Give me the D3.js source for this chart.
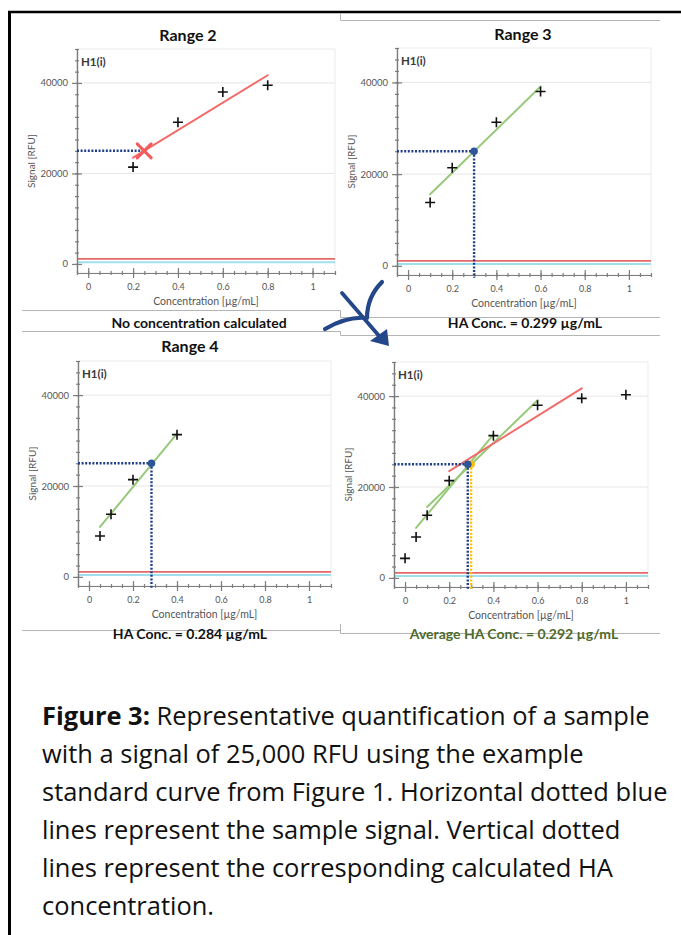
<!DOCTYPE html>
<html>
<head>
<meta charset="utf-8">
<script src="https://cdnjs.cloudflare.com/ajax/libs/d3/7.8.5/d3.min.js"></script>
<style>
  body { margin: 0; background: #fff; }
  svg { display: block; font-family: Lato, "Open Sans", sans-serif; }
  .axis path, .axis line { stroke: #7d7d7d; stroke-width: 1.2; }
  .axis text { fill: #555; font-family: Lato, sans-serif; }
</style>
</head>
<body>
<div id="svg-container"></div>
<script>
////////////////////////////  Data  ////////////////////////////
// standard curve points
const conc = [0, 0.05, 0.1, 0.2, 0.4, 0.6, 0.8, 1];
const signal = [4300, 9000, 13800, 21400, 31300, 38000, 39500, 40300];

// sample + reference lines
const sampleSignal = 25000;
const redLevel = 1100;
const cyanLevel = 400;

// fitted segments per range [[x,y],[x,y]]
const fitRange2 = [[0.2, 23500], [0.8, 41700]];
const fitRange3 = [[0.1, 15600], [0.6, 39100]];
const fitRange4 = [[0.05, 11000], [0.4, 31500]];

// calculated concentrations
const concRange3 = 0.299;
const concRange4 = 0.284;

// which points each panel shows
const rangeBounds = [[0.2, 0.8], [0.1, 0.6], [0.05, 0.4], [0, 1]];

// texts
const titles = ["Range 2", "Range 3", "Range 4", ""];
const results = [
  "No concentration calculated",
  "HA Conc. = 0.299 µg/mL",
  "HA Conc. = 0.284 µg/mL",
  "Average HA Conc. = 0.292 µg/mL"
];
const xTicks = [0, 0.2, 0.4, 0.6, 0.8, 1];
const yTicks = [0, 20000, 40000];
const gridVals = [20000, 40000];
const xDomain = [-0.05, 1.1];
const yDomain = [-2000, 47500];

const captionBold = "Figure 3:";
const captionLines = [
  " Representative quantification of a sample",
  "with a signal of 25,000 RFU using the example",
  "standard curve from Figure 1. Horizontal dotted blue",
  "lines represent the sample signal. Vertical dotted",
  "lines represent the corresponding calculated HA",
  "concentration."
];

////////////////////////////  Init  ////////////////////////////
const width = 681, height = 935;
const svg = d3.select("#svg-container").append("svg")
  .attr("width", width).attr("height", height);

const darkBlue = "#203f88";
const red = "#f26b68";
const green = "#98c97a";
const yellow = "#ffc000";

// panel placement (pixel box of each plot area)
const panels = [
  { x0: 77, x1: 335, y0: 273, y1: 49, tx: 188, ty: 41, rx: 199, ry: 328, fits: [fitRange2], fitColor: red, calc: [] },
  { x0: 397, x1: 651, y0: 275, y1: 48, tx: 523, ty: 40, rx: 525, ry: 328, fits: [fitRange3], fitColor: green, calc: [concRange3] },
  { x0: 78, x1: 331, y0: 586, y1: 361, tx: 190, ty: 352, rx: 190, ry: 639, fits: [fitRange4], fitColor: green, calc: [concRange4] },
  { x0: 394, x1: 648, y0: 587, y1: 362, tx: 0, ty: 0, rx: 514, ry: 639, fits: [fitRange3, fitRange4, fitRange2], fitColor: null, calc: [concRange3, concRange4] }
];

// frame + image borders
svg.append("line").attr("x1", 8).attr("x2", width).attr("y1", 12).attr("y2", 12)
  .attr("stroke", "#000").attr("stroke-width", 2.6);
svg.append("line").attr("x1", 9.5).attr("x2", 9.5).attr("y1", 11).attr("y2", height)
  .attr("stroke", "#000").attr("stroke-width", 3);

const borders = ["M340.5,13V20.5H660", "M22,310.5H340.5V317.5H660", "M22,331.5H340.5V335.5H660",
  "M22,630.5H340", "M340.5,624V633.5H660"];
svg.selectAll(".border").data(borders).join("path")
  .attr("d", d => d).attr("fill", "none").attr("stroke", "#b4b4b4").attr("stroke-width", 1);

const plus = "M-5,0H5M0,-5V5";
const crossAt = f => f[0][0] + (sampleSignal - f[0][1]) * (f[1][0] - f[0][0]) / (f[1][1] - f[0][1]);

panels.forEach((p, i) => {
  const x = d3.scaleLinear().domain(xDomain).range([p.x0, p.x1]);
  const y = d3.scaleLinear().domain(yDomain).range([p.y0, p.y1]);
  const g = svg.append("g");

  // plot background
  g.append("rect").attr("x", p.x0).attr("y", p.y1)
    .attr("width", p.x1 - p.x0).attr("height", p.y0 - p.y1)
    .attr("fill", "#fff").attr("stroke", "#ececec");

  g.selectAll(".grid").data(gridVals).join("line")
    .attr("x1", p.x0).attr("x2", p.x1)
    .attr("y1", d => y(d)).attr("y2", d => y(d))
    .attr("stroke", "#e6e6e6");

  // cyan / red baselines
  g.append("line").attr("x1", p.x0).attr("x2", p.x1)
    .attr("y1", y(cyanLevel)).attr("y2", y(cyanLevel))
    .attr("stroke", "#9fe0ec").attr("stroke-width", 2);
  g.append("line").attr("x1", p.x0).attr("x2", p.x1)
    .attr("y1", y(redLevel)).attr("y2", y(redLevel))
    .attr("stroke", "#e25050").attr("stroke-width", 1.8).attr("opacity", 0.85);

  // axes
  const xMinor = g.append("g").attr("class", "axis").attr("transform", `translate(0,${p.y0})`)
    .call(d3.axisBottom(x).ticks(23).tickSize(2).tickSizeOuter(0).tickFormat(""));
  xMinor.selectAll(".tick line").attr("y1", -2);
  const xAxis = g.append("g").attr("class", "axis").attr("transform", `translate(0,${p.y0})`)
    .call(d3.axisBottom(x).tickValues(xTicks).tickSize(5).tickSizeOuter(0).tickPadding(6).tickFormat(d3.format("~g")));
  xAxis.selectAll(".tick line").attr("y1", -5);
  xAxis.selectAll("text").attr("font-size", 9);

  const yMinor = g.append("g").attr("class", "axis").attr("transform", `translate(${p.x0},0)`)
    .call(d3.axisLeft(y).tickValues(d3.range(0, 47501, 2500)).tickSize(2).tickSizeOuter(0).tickFormat(""));
  yMinor.selectAll(".tick line").attr("x1", 2);
  const yAxis = g.append("g").attr("class", "axis").attr("transform", `translate(${p.x0},0)`)
    .call(d3.axisLeft(y).tickValues(yTicks).tickSize(5).tickSizeOuter(0).tickPadding(4).tickFormat(d3.format("d")));
  yAxis.selectAll(".tick line").attr("x1", 5);
  yAxis.selectAll("text").attr("font-size", 9.5);

  // axis titles
  g.append("text").attr("x", (p.x0 + p.x1) / 2).attr("y", p.y0 + 32)
    .attr("text-anchor", "middle").attr("font-size", 10.5).attr("fill", "#555")
    .text("Concentration [µg/mL]");
  g.append("text")
    .attr("transform", `translate(${p.x0 - 42},${(p.y0 + p.y1) / 2}) rotate(-90)`)
    .attr("text-anchor", "middle").attr("font-size", 10).attr("fill", "#555")
    .text("Signal [RFU]");
  g.append("text").attr("x", p.x0 + 4).attr("y", p.y1 + 17)
    .attr("font-size", 11.5).attr("font-weight", 700).attr("fill", "#3a3a3a")
    .text("H1(i)");

  // fit lines
  g.selectAll(".fit").data(p.fits).join("line")
    .attr("x1", d => x(d[0][0])).attr("y1", d => y(d[0][1]))
    .attr("x2", d => x(d[1][0])).attr("y2", d => y(d[1][1]))
    .attr("stroke", d => p.fitColor || (d === fitRange2 ? red : green))
    .attr("stroke-width", 2).attr("stroke-linecap", "round");

  // data points
  const pts = conc.map((c, k) => [c, signal[k]])
    .filter(d => d[0] >= rangeBounds[i][0] && d[0] <= rangeBounds[i][1]);
  g.selectAll(".pt").data(pts).join("path")
    .attr("d", plus).attr("transform", d => `translate(${x(d[0])},${y(d[1])})`)
    .attr("stroke", "#111").attr("stroke-width", 1.6);

  // sample signal lines
  const ys = y(sampleSignal);
  if (p.calc.length === 0) {
    const cx = crossAt(fitRange2);
    g.append("line").attr("x1", p.x0).attr("x2", x(cx)).attr("y1", ys).attr("y2", ys)
      .attr("stroke", darkBlue).attr("stroke-width", 2.4).attr("stroke-dasharray", "2,1.6");
    g.append("path").attr("d", "M-7,-7L7,7M-7,7L7,-7")
      .attr("transform", `translate(${x(cx)},${ys})`)
      .attr("stroke", "#f45c5c").attr("stroke-width", 3).attr("stroke-linecap", "round");
  } else {
    const cMin = d3.min(p.calc);
    g.append("line").attr("x1", p.x0).attr("x2", x(cMin)).attr("y1", ys).attr("y2", ys)
      .attr("stroke", darkBlue).attr("stroke-width", 2.4).attr("stroke-dasharray", "2,1.6");
    const cols = p.calc.length > 1 ? [yellow, darkBlue] : [darkBlue];
    g.selectAll(".vline").data(p.calc).join("line")
      .attr("x1", d => x(d)).attr("x2", d => x(d))
      .attr("y1", ys).attr("y2", p.y0 + 3)
      .attr("stroke", (d, k) => cols[k]).attr("stroke-width", 2.4).attr("stroke-dasharray", "2,1.6");
    g.selectAll(".dot").data(p.calc).join("circle")
      .attr("cx", d => x(d)).attr("cy", ys).attr("r", 3.8)
      .attr("fill", (d, k) => k === 0 && p.calc.length > 1 ? yellow : "#2e5597");
  }

  // titles
  if (titles[i]) {
    svg.append("text").attr("x", p.tx).attr("y", p.ty)
      .attr("text-anchor", "middle").attr("font-size", 16).attr("font-weight", 700)
      .attr("fill", "#111").text(titles[i]);
  }
  svg.append("text").attr("x", p.rx).attr("y", p.ry)
    .attr("text-anchor", "middle").attr("font-size", 14).attr("font-weight", 700)
    .attr("fill", i === 3 ? "#4e6a2c" : "#111").text(results[i]);
});

// curved arrow between panels
const arrowBlue = "#24478a";
svg.append("path").attr("d", "M382,282Q367,297 367,318Q347,316 325,329")
  .attr("fill", "none").attr("stroke", arrowBlue).attr("stroke-width", 4.2)
  .attr("stroke-linecap", "round").attr("stroke-linejoin", "round");
svg.append("path").attr("d", "M342,293L380,337")
  .attr("fill", "none").attr("stroke", arrowBlue).attr("stroke-width", 3.8).attr("stroke-linecap", "round");
svg.append("path").attr("d", "M389,346L370,341L387,329Z").attr("fill", arrowBlue);

// caption
const cap = svg.append("g").attr("font-family", "'Open Sans', sans-serif").attr("font-size", 24).attr("fill", "#111");
const capText = cap.selectAll("text").data(captionLines).join("text")
  .attr("x", 42).attr("y", (d, k) => 725 + k * 38)
  .each(function (d, k) {
    const t = d3.select(this);
    if (k === 0) t.append("tspan").attr("font-weight", 700).text(captionBold);
    t.append("tspan").text(d);
  });
// scale font so the widest line spans like the original
const widest = capText.nodes()[2].getComputedTextLength();
cap.attr("font-size", 24 * 626 / widest);
</script>
</body>
</html>
